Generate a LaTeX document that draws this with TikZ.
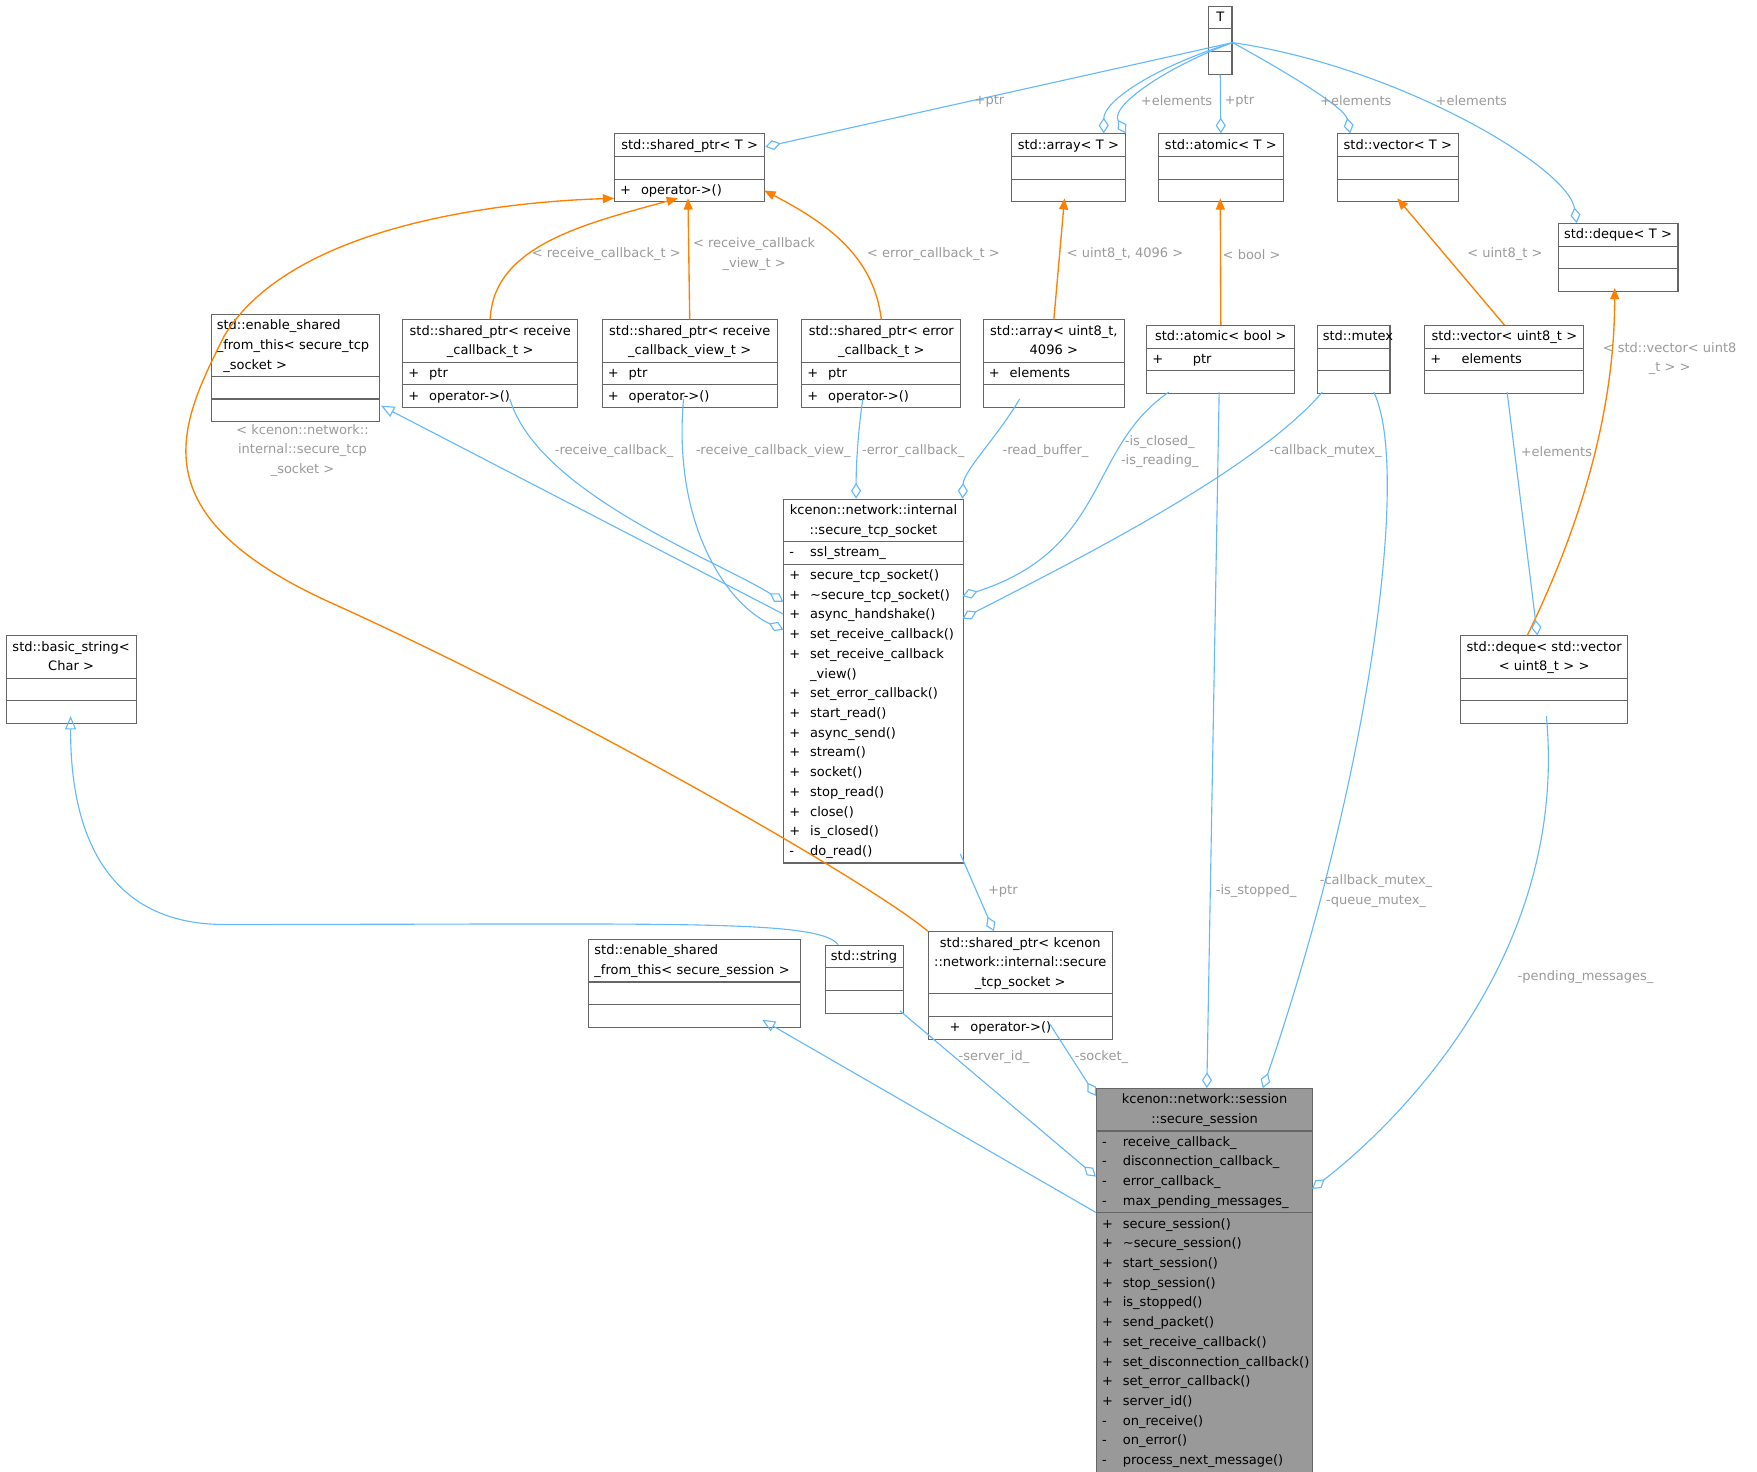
\documentclass[tikz,border=0pt]{standalone}
\usepackage{fontspec}
\setmainfont{DejaVu Sans}
\usetikzlibrary{shapes.multipart,arrows.meta}
\definecolor{eb}{HTML}{63B8FF}
\definecolor{lb}{HTML}{9A9A9A}
\definecolor{bd}{HTML}{666666}
\newcommand\mm[2]{\strut\makebox[1.6em][l]{#1}#2}
\newcommand\ti[1]{{\centering\strut #1\strut\par}}
\begin{document}
\begin{tikzpicture}[x=0.5pt,y=-0.5pt,
 font=\fontsize{5.8}{8.8}\selectfont,
 cls/.style={rectangle split,rectangle split parts=3,draw=bd,line width=0.5pt,anchor=north west,align=left,inner xsep=2.5pt,inner ysep=0.4pt},
 ag/.style={eb,line width=0.5pt,-{Diamond[open,length=7pt,width=4.5pt]}},
 ih/.style={eb,line width=0.5pt,-{Triangle[open,length=6pt,width=5pt]}},
 tp/.style={orange,line width=0.6pt,-{Triangle[length=5pt,width=4pt]}},
 lb/.style={text=lb,align=center,inner sep=1pt}]
\useasboundingbox (0,0) rectangle (1568,1313);
\newcommand\cls[7][]{\node[cls,#1,text width=#5*0.5pt-5pt] (#2) at (#3,#4) {#6 \nodepart{two}#7};}
% nodes
\cls{T}{1078}{5}{21}{\ti{T}}{\strut\nodepart{three}\strut}
\cls{spT}{548}{119}{134}{\ti{std::shared\_ptr< T >}}{\strut\nodepart{three}\mm{+}{operator->()}}
\cls{arrT}{902}{119}{102}{\ti{std::array< T >}}{\strut\nodepart{three}\strut}
\cls{atT}{1033}{119}{112}{\ti{std::atomic< T >}}{\strut\nodepart{three}\strut}
\cls{vecT}{1193}{119}{108}{\ti{std::vector< T >}}{\strut\nodepart{three}\strut}
\cls{deqT}{1390}{199}{107}{\ti{std::deque< T >}}{\strut\nodepart{three}\strut}
\cls{ests}{188}{280}{150}{\strut std::enable\_shared\\\_from\_this< secure\_tcp\\\phantom{\_}\_socket >\strut}{\strut\nodepart{three}\strut}
\cls{sprc}{359}{285}{156}{\ti{std::shared\_ptr< receive\\\_callback\_t >}}{\mm{+}{ptr}\nodepart{three}\mm{+}{operator->()}}
\cls{sprv}{537}{285}{156}{\ti{std::shared\_ptr< receive\\\_callback\_view\_t >}}{\mm{+}{ptr}\nodepart{three}\mm{+}{operator->()}}
\cls{spec}{715}{285}{142}{\ti{std::shared\_ptr< error\\\_callback\_t >}}{\mm{+}{ptr}\nodepart{three}\mm{+}{operator->()}}
\cls{arr}{877}{285}{126}{\ti{std::array< uint8\_t,\\4096 >}}{\mm{+}{elements}\nodepart{three}\strut}
\cls{atb}{1023}{290}{132}{\ti{std::atomic< bool >}}{\mm{+}{\hspace{1.5em}ptr}\nodepart{three}\strut}
\cls{mtx}{1175}{290}{65}{\ti{std::mutex}}{\strut\nodepart{three}\strut}
\cls{vec}{1271}{290}{142}{\ti{std::vector< uint8\_t >}}{\mm{+}{\hspace{0.8em}elements}\nodepart{three}\strut}
\cls{sock}{699}{445}{160}{\ti{kcenon::network::internal\\::secure\_tcp\_socket}}{\mm{-}{ssl\_stream\_}\nodepart{three}\mm{+}{secure\_tcp\_socket()}\\\mm{+}{\textasciitilde secure\_tcp\_socket()}\\\mm{+}{async\_handshake()}\\\mm{+}{set\_receive\_callback()}\\\mm{+}{set\_receive\_callback}\\\mm{}{\_view()}\\\mm{+}{set\_error\_callback()}\\\mm{+}{start\_read()}\\\mm{+}{async\_send()}\\\mm{+}{stream()}\\\mm{+}{socket()}\\\mm{+}{stop\_read()}\\\mm{+}{close()}\\\mm{+}{is\_closed()}\\\mm{-}{do\_read()}}
\cls{bstr}{5}{567}{116}{\ti{std::basic\_string<\\Char >}}{\strut\nodepart{three}\strut}
\cls{dqv}{1303}{567}{149}{\ti{std::deque< std::vector\\< uint8\_t > >}}{\strut\nodepart{three}\strut}
\cls{esss}{525}{838}{189}{\strut std::enable\_shared\\\_from\_this< secure\_session >\strut}{\strut\nodepart{three}\strut}
\cls{str}{736}{843}{70}{\strut std::string}{\strut\nodepart{three}\strut}
\cls{spk}{828}{831}{164}{\ti{std::shared\_ptr< kcenon\\::network::internal::secure\\\_tcp\_socket >}}{\strut\nodepart{three}\mm{\hspace{1.2em}+}{\hspace{1.2em}operator->()}}
\cls[fill=black!40]{sess}{978}{971}{193}{\ti{kcenon::network::session\\::secure\_session}}{\mm{-}{receive\_callback\_}\\\mm{-}{disconnection\_callback\_}\\\mm{-}{error\_callback\_}\\\mm{-}{max\_pending\_messages\_}\nodepart{three}\mm{+}{secure\_session()}\\\mm{+}{\textasciitilde secure\_session()}\\\mm{+}{start\_session()}\\\mm{+}{stop\_session()}\\\mm{+}{is\_stopped()}\\\mm{+}{send\_packet()}\\\mm{+}{set\_receive\_callback()}\\\mm{+}{set\_disconnection\_callback()}\\\mm{+}{set\_error\_callback()}\\\mm{+}{server\_id()}\\\mm{-}{on\_receive()}\\\mm{-}{on\_error()}\\\mm{-}{process\_next\_message()}}
% T edges
\draw[ag] (T.east|-0,38) -- (spT.east|-0,131) node[pos=0.5,lb,above]{};
\node[lb] (l1) at (883,90) {+ptr};
\draw[ag] (T.east|-0,38) .. controls (1040,60) and (990,95) .. (arrT.north east|-0,119) ;
\draw[ag] (T.east|-0,38) .. controls (1030,60) and (985,90) .. (985,119);
\node[lb] at (1050,90) {+elements};
\draw[ag] (T.south) -- (atT.north);
\node[lb] at (1106,90) {+ptr};
\draw[ag] (T.east|-0,38) .. controls (1140,60) and (1200,95) .. (1205,119);
\node[lb] at (1210,90) {+elements};
\draw[ag] (T.east|-0,38) .. controls (1250,60) and (1400,150) .. (1407,199);
\node[lb] at (1313,90) {+elements};
% template edges
\draw[tp] (sprc.north) .. controls (440,220) and (520,200) .. (605,177);
\node[lb] at (541,227) {< receive\_callback\_t >};
\draw[tp] (sprv.north) -- (614,177);
\node[lb] at (673,227) {< receive\_callback\\\_view\_t >};
\draw[tp] (spec.north) .. controls (780,230) and (740,200) .. (682,170);
\node[lb] at (833,227) {< error\_callback\_t >};
\draw[tp] (spk.north west) .. controls (780,790) and (520,640) .. (300,540) .. controls (120,460) and (160,380) .. (200,300) .. controls (260,200) and (450,180) .. (548,177);
\node[lb] at (270,402) {< kcenon::network::\\internal::secure\_tcp\\\_socket >};
\draw[tp] (arr.north) -- (950,177);
\node[lb] at (1004,227) {< uint8\_t, 4096 >};
\draw[tp] (atb.north) -- (1089,177);
\node[lb] at (1117,227) {< bool >};
\draw[tp] (vec.north) -- (1247,177);
\node[lb] at (1343,227) {< uint8\_t >};
\draw[tp] (1363,567) .. controls (1420,450) and (1441,350) .. (1441,257);
\node[lb] at (1490,320) {< std::vector< uint8\\\_t > >};
% to secure_tcp_socket
\draw[ih] (699,548) -- (340,362);
\draw[ag] (455,356) .. controls (480,440) and (640,500) .. (699,537);
\node[lb] at (548,403) {-receive\_callback\_};
\draw[ag] (610,356) .. controls (600,470) and (650,540) .. (699,562);
\node[lb] at (690,403) {-receive\_callback\_view\_};
\draw[ag] (770,356) .. controls (765,390) and (764,420) .. (764,445);
\node[lb] at (815,403) {-error\_callback\_};
\draw[ag] (910,356) .. controls (890,390) and (860,420) .. (859,445);
\node[lb] at (933,403) {-read\_buffer\_};
\draw[ag] (1043,350) .. controls (970,400) and (990,490) .. (859,532);
\node[lb] at (1035,403) {-is\_closed\_\\-is\_reading\_};
\draw[ag] (1180,350) .. controls (1120,420) and (960,500) .. (859,552);
\node[lb] at (1183,403) {-callback\_mutex\_};
\draw[ag] (857,762) -- (887,831);
\node[lb] at (895,795) {+ptr};
% to session
\draw[ih] (748,843) .. controls (730,820) and (600,825) .. (200,825) .. controls (70,825) and (63,700) .. (63,639);
\draw[ih] (978,1082) -- (680,910);
\draw[ag] (803,902) -- (978,1050);
\node[lb] at (887,943) {-server\_id\_};
\draw[ag] (937,914) -- (978,978);
\node[lb] at (983,943) {-socket\_};
\draw[ag] (1088,350) -- (1077,971);
\node[lb] at (1121,795) {-is\_stopped\_};
\draw[ag] (1226,350) .. controls (1260,420) and (1220,700) .. (1127,971);
\node[lb] at (1228,795) {-callback\_mutex\_\\-queue\_mutex\_};
\draw[ag] (1380,639) .. controls (1400,850) and (1250,1000) .. (1171,1061);
\node[lb] at (1415,872) {-pending\_messages\_};
\draw[ag] (1345,350) -- (1372,567);
\node[lb] at (1389,403) {+elements};
\end{tikzpicture}
\end{document}
